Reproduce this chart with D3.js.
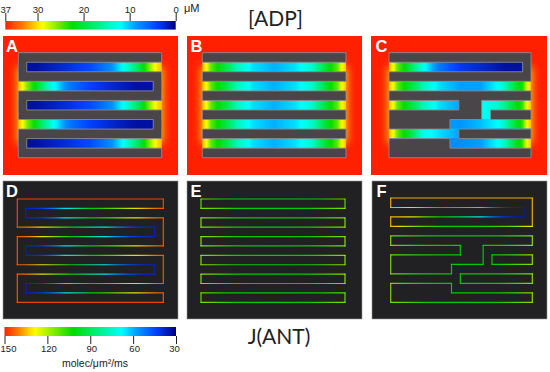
<!DOCTYPE html>
<html>
<head>
<meta charset="utf-8">
<script src="https://cdn.jsdelivr.net/npm/d3@7"></script>
<style>
  html, body { margin: 0; padding: 0; background: #fff; }
  svg { display: block; }
  text { font-family: "Liberation Sans", sans-serif; fill: #222; }
</style>
</head>
<body>
<svg id="chart" width="550" height="372"></svg>
<script>
// shared colour ramp and where it sits on each colour bar
const rampColors = ["#000080", "#0040ff", "#00a0ff", "#00ffff", "#00f080", "#00dc00", "#ffff00", "#ff8000", "#ff2000"];
const adpDomain = [0, 4, 9, 12, 17, 22.6, 29, 33, 37];
const antDomain = [30, 44, 58, 68, 85, 102, 129, 140, 150];
const adpTicks = [37, 30, 20, 10, 0];
const antTicks = [150, 120, 90, 60, 30];

// columns at which every profile below is read (0 = left end of the membrane, 17 = right end)
const profileCols = [0, 0.5, 1, 2, 3, 4, 6, 8.5, 11, 13, 14, 15, 16, 16.5, 17];

// [ADP] in the gaps, keyed by row
const adpOpenRight = [1, 1, 1, 1, 1.5, 2, 3, 4.5, 8, 14, 18, 23, 28, 30, 31];
const adpOpenLeft = [31, 29, 26, 22, 17, 13, 7, 4, 2.5, 1.5, 1, 1, 1, 1, 1];
const adpBoth = [31, 29, 25, 22, 19, 15, 11, 9.5, 11, 14, 18, 22, 25, 29, 31];
const adpC1 = [31, 29, 25, 22, 17, 13, 7, 3.5, 2.5, 1.5, 1, 1, 1, 1, 1];
const adpC3 = [31, 29, 25, 22, 19, 15, 11, 9, 9, 12, 15, 20, 23, 28, 31];
const adpC5 = [31, 29, 25, 22, 19, 15, 11, 9, 12, 14, 17, 21, 24, 29, 31];
const adpC7 = [9, 9, 9, 9, 9, 9, 9, 8.5, 10, 12, 15, 20, 24, 29, 31];
const adpC8 = [31, 29, 25, 22, 18, 13, 11, 9, 9, 9, 9, 9, 9, 9, 9];
const adpC9 = [8, 8, 8, 8, 8, 8, 8, 8, 9, 12, 15, 20, 24, 29, 31];

const adpRowsA = [[1, adpOpenRight], [3, adpOpenLeft], [5, adpOpenRight], [7, adpOpenLeft], [9, adpOpenRight]];
const adpRowsB = [[1, adpBoth], [3, adpBoth], [5, adpBoth], [7, adpBoth], [9, adpBoth]];
const adpRowsC = [[1, adpC1], [3, adpC3], [5, adpC5], [6, adpC5], [7, adpC7], [8, adpC8], [9, adpC9]];

// J(ANT) along the membrane lines, keyed by line index
const antEdge = [145, 145, 145, 145, 145, 145, 145, 145, 145, 145, 145, 145, 145, 145, 145];
const antRight = [38, 38, 38, 40, 44, 52, 72, 100, 112, 125, 130, 135, 140, 142, 143];
const antLeft = [143, 142, 140, 135, 128, 120, 105, 82, 62, 47, 42, 39, 38, 38, 38];
const antFlat = [118, 117, 115, 111, 107, 104, 102, 100, 102, 104, 107, 111, 115, 117, 118];
const antFlatGreen = [114, 112, 110, 106, 103, 102, 100, 100, 100, 102, 103, 106, 110, 112, 114];
const antF0 = [134, 134, 134, 134, 134, 134, 134, 134, 134, 134, 134, 134, 134, 134, 134];
const antF1 = [134, 134, 133, 130, 124, 114, 102, 88, 66, 46, 40, 37, 36, 36, 36];
const antF3 = [134, 132, 128, 122, 116, 110, 104, 102, 104, 108, 112, 118, 126, 128, 130];
const antF4 = [116, 114, 112, 110, 106, 104, 102, 102, 102, 103, 106, 110, 114, 116, 118];

const antLinesD = [antEdge, antRight, antRight, antLeft, antLeft, antRight, antRight, antLeft, antLeft, antRight, antRight, antEdge];
const antLinesE = [antFlatGreen, antFlat, antFlat, antFlat, antFlat, antFlat, antFlat, antFlat, antFlat, antFlat, antFlatGreen, antFlat];
const antLinesF = [antF0, antF1, antF1, antF3, antF4, antF4, antF4, antF4, antF4, antF4, antF4, antFlat];

// membrane outlines as [column, line] corners
const outlineComb = [[[0, 0], [17, 0], [17, 1], [1, 1], [1, 2], [17, 2], [17, 5], [1, 5], [1, 6], [17, 6], [17, 9], [1, 9], [1, 10], [17, 10], [17, 11], [0, 11], [0, 8], [16, 8], [16, 7], [0, 7], [0, 4], [16, 4], [16, 3], [0, 3]]];
const outlineBars = [0, 2, 4, 6, 8, 10].map(r => [[0, r], [17, r], [17, r + 1], [0, r + 1]]);
const outlineBranch = [
  [[0, 0], [17, 0], [17, 3], [0, 3], [0, 2], [16, 2], [16, 1], [0, 1]],
  [[0, 4], [17, 4], [17, 5], [11.1, 5], [11.1, 7], [7.3, 7], [7.3, 8], [0, 8], [0, 6], [8.36, 6], [8.36, 5], [0, 5]],
  [[12.16, 6], [17, 6], [17, 7], [12.16, 7]],
  [[8.36, 8], [17, 8], [17, 9], [8.36, 9]],
  [[0, 9], [7.3, 9], [7.3, 10], [17, 10], [17, 11], [0, 11]]
];

const svg = d3.select("#chart");
const defs = svg.append("defs");

const adpColor = d3.scaleLinear().domain(adpDomain).range(rampColors).clamp(true);
const antColor = d3.scaleLinear().domain(antDomain).range(rampColors).clamp(true);

defs.append("filter").attr("id", "glow")
  .attr("x", "-30%").attr("y", "-30%").attr("width", "160%").attr("height", "160%")
  .attr("color-interpolation-filters", "sRGB")
  .append("feGaussianBlur").attr("stdDeviation", 4.5);

let gradId = 0;

// horizontal gradient in user space, sampled from one profile
function profileGradient(profile, color, x) {
  const id = "grad" + (gradId++);
  const lookup = d3.scaleLinear().domain(profileCols).range(profile);
  const grad = defs.append("linearGradient").attr("id", id)
    .attr("gradientUnits", "userSpaceOnUse")
    .attr("x1", x(0)).attr("x2", x(17)).attr("y1", 0).attr("y2", 0);
  grad.selectAll("stop")
    .data(d3.range(0, 17.01, 0.25))
    .enter()
    .append("stop")
    .attr("offset", d => d / 17)
    .attr("stop-color", d => color(lookup(d)));
  return id;
}

const outlinePath = d3.line().curve(d3.curveLinearClosed);

function drawAdpPanel(p, rows, outlines) {
  const x = d3.scaleLinear().domain([0, 17]).range(p.shape);
  const y = d3.scaleLinear().domain([0, 11]).range(p.lines);
  const g = svg.append("g");
  const clipId = "clip" + p.label;
  defs.append("clipPath").attr("id", clipId)
    .append("rect").attr("x", p.box[0]).attr("y", p.box[1])
    .attr("width", p.box[2] - p.box[0]).attr("height", p.box[3] - p.box[1]);

  g.append("rect")
    .attr("x", p.box[0]).attr("y", p.box[1])
    .attr("width", p.box[2] - p.box[0]).attr("height", p.box[3] - p.box[1])
    .attr("fill", "#ff2000");

  g.append("g").attr("clip-path", `url(#${clipId})`)
    .append("rect")
    .attr("x", x(0) - 1).attr("width", x(17) - x(0) + 2)
    .attr("y", y(1.5)).attr("height", y(9.5) - y(1.5))
    .attr("fill", "#ffd000")
    .attr("filter", "url(#glow)");

  g.selectAll("rect.gap")
    .data(rows)
    .enter()
    .append("rect")
    .attr("class", "gap")
    .attr("x", x(0)).attr("width", x(17) - x(0))
    .attr("y", d => y(d[0]) - 0.5).attr("height", d => y(d[0] + 1) - y(d[0]) + 1)
    .attr("fill", d => `url(#${profileGradient(d[1], adpColor, x)})`);

  // the membrane sits on top, so only the open part of each gap shows
  g.selectAll("path.membrane")
    .data(outlines)
    .enter()
    .append("path")
    .attr("class", "membrane")
    .attr("d", d => outlinePath(d.map(c => [x(c[0]), y(c[1])])))
    .attr("fill", "#4a4548")
    .attr("stroke", "#8c8a8c")
    .attr("stroke-width", 0.9);

  drawLetter(p);
}

function drawAntPanel(p, lines, outlines) {
  const x = d3.scaleLinear().domain([0, 17]).range(p.shape);
  const y = d3.scaleLinear().domain([0, 11]).range(p.lines);
  const g = svg.append("g");

  g.append("rect")
    .attr("x", p.box[0]).attr("y", p.box[1])
    .attr("width", p.box[2] - p.box[0]).attr("height", p.box[3] - p.box[1])
    .attr("fill", "#212022")
    .attr("stroke", "#999")
    .attr("stroke-width", 0.6);

  const grads = lines.map(l => profileGradient(l, antColor, x));
  const lookups = lines.map(l => d3.scaleLinear().domain(profileCols).range(l));

  const segments = [];
  outlines.forEach(o => o.forEach((c, i) => segments.push([c, o[(i + 1) % o.length]])));

  g.selectAll("line")
    .data(segments)
    .enter()
    .append("line")
    .attr("x1", d => x(d[0][0])).attr("y1", d => y(d[0][1]))
    .attr("x2", d => x(d[1][0])).attr("y2", d => y(d[1][1]))
    .attr("stroke", d => {
      if (d[0][1] === d[1][1]) return `url(#${grads[d[0][1]]})`;
      return antColor(lookups[Math.min(d[0][1], d[1][1])](d[0][0]));
    })
    .attr("stroke-width", 1.2)
    .attr("stroke-opacity", 0.88)
    .attr("stroke-linecap", "round");

  drawLetter(p);
}

function drawLetter(p) {
  svg.append("text")
    .attr("x", p.box[0] + p.letterDx).attr("y", p.box[1] + 16)
    .attr("font-size", 16.5).attr("font-weight", "bold")
    .style("fill", "#fff")
    .text(p.label);
}

drawAdpPanel({label: "A", box: [3, 36, 178, 175], shape: [18.3, 161.7], lines: [52.7, 157.7], letterDx: 3}, adpRowsA, outlineComb);
drawAdpPanel({label: "B", box: [187, 36, 362, 175], shape: [202.3, 346], lines: [52.7, 157.7], letterDx: 3.5}, adpRowsB, outlineBars);
drawAdpPanel({label: "C", box: [371, 36, 547, 175], shape: [389, 531], lines: [52.7, 157.7], letterDx: 4.5}, adpRowsC, outlineBranch);
drawAntPanel({label: "D", box: [3, 181, 178, 319], shape: [17.3, 163.3], lines: [199, 302.3], letterDx: 3}, antLinesD, outlineComb);
drawAntPanel({label: "E", box: [187, 181, 362, 319], shape: [201, 345], lines: [199, 302.3], letterDx: 3.5}, antLinesE, outlineBars);
drawAntPanel({label: "F", box: [372, 181, 547, 319], shape: [390.7, 532.3], lines: [198, 302.3], letterDx: 4.5}, antLinesF, outlineBranch);

// colour bars
function drawBar(domain, color, range, top, height) {
  const id = "grad" + (gradId++);
  const scale = d3.scaleLinear().domain(domain).range(range);
  const grad = defs.append("linearGradient").attr("id", id);
  grad.selectAll("stop")
    .data(d3.range(0, 1.001, 0.02))
    .enter()
    .append("stop")
    .attr("offset", d => d)
    .attr("stop-color", d => color(domain[0] + (domain[1] - domain[0]) * d));
  svg.append("rect")
    .attr("x", range[0]).attr("y", top)
    .attr("width", range[1] - range[0]).attr("height", height)
    .attr("fill", `url(#${id})`);
  return scale;
}

const adpBar = drawBar([37, 0], adpColor, [5.3, 175.7], 21, 8.6);
const antBar = drawBar([150, 30], antColor, [4.5, 176], 327, 9);

const adpAxis = svg.append("g").attr("transform", "translate(0,21)")
  .call(d3.axisTop(adpBar).tickValues(adpTicks).tickSize(8).tickPadding(0));
const antAxis = svg.append("g").attr("transform", "translate(0,336)")
  .call(d3.axisBottom(antBar).tickValues(antTicks).tickSize(8).tickPadding(1));

[adpAxis, antAxis].forEach(a => {
  a.select(".domain").remove();
  a.selectAll(".tick line").attr("stroke", "#222").attr("stroke-width", 1);
  a.selectAll("text").attr("font-size", 9.5).attr("font-family", '"Liberation Sans", sans-serif').style("fill", "#222");
});
antAxis.selectAll("text").attr("dx", d => d === 150 ? 3.5 : (d === 30 ? -2 : 1));

svg.append("text").attr("x", 184).attr("y", 12).attr("font-size", 11).text("μM");
svg.append("text").attr("x", 95).attr("y", 367).attr("font-size", 10.5).attr("text-anchor", "middle").text("molec/μm²/ms");

svg.append("text").attr("x", 275.5).attr("y", 26).attr("font-size", 21).attr("text-anchor", "middle")
  .style("font-family", "Lato, sans-serif").text("[ADP]");
svg.append("text").attr("x", 279).attr("y", 344).attr("font-size", 21).attr("text-anchor", "middle")
  .style("font-family", "Lato, sans-serif").text("J(ANT)");
</script>
</body>
</html>
